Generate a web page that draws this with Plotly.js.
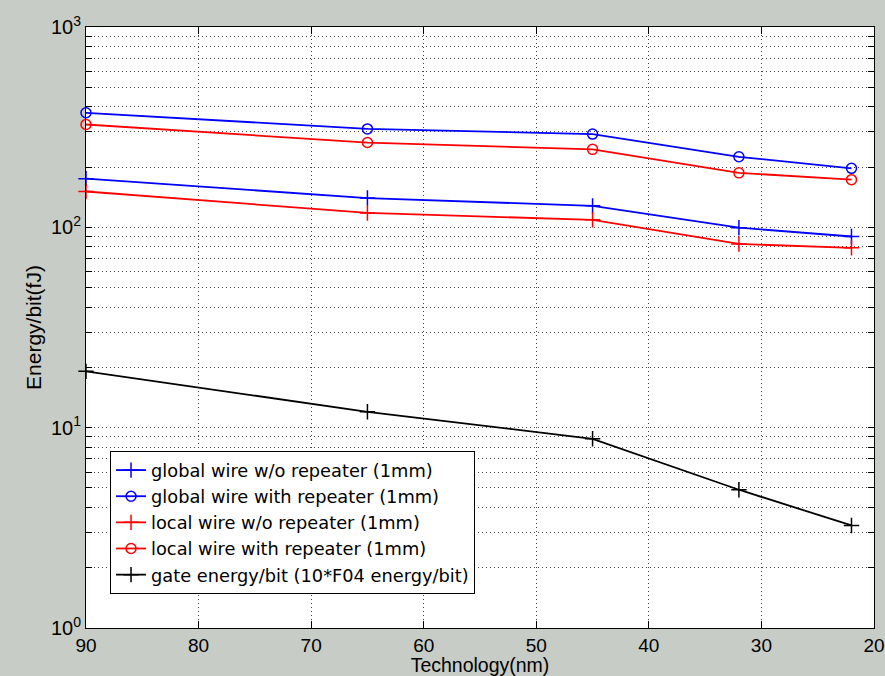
<!DOCTYPE html>
<html>
<head>
<meta charset="utf-8">
<script src="https://cdn.plot.ly/plotly-3.0.1.min.js"></script>
<style>html,body{margin:0;padding:0;background:#c8ccc6;}#chart{width:885px;height:676px;}</style>
</head>
<body>
<div id="chart"></div>
<script>
const technology = [90, 65, 45, 32, 22];
const globalNoRep = [175, 140, 128, 99.6, 90];
const globalRep = [373, 310, 292, 225, 197];
const localNoRep = [151, 118, 109, 82.6, 79];
const localRep = [326, 265, 245, 187, 173];
const gateEnergy = [19.1, 12.0, 8.8, 4.9, 3.25];
const seriesNames = [
  'global wire w/o repeater (1mm)',
  'global wire with repeater (1mm)',
  'local wire w/o repeater (1mm)',
  'local wire with repeater (1mm)',
  'gate energy/bit (10*F04 energy/bit)'
];
const xTicks = [90, 80, 70, 60, 50, 40, 30, 20];

const yTickVals = [];
const yTickText = [];
for (let e = 0; e < 3; e++) {
  for (let m = 1; m <= 9; m++) {
    yTickVals.push(m * Math.pow(10, e));
    yTickText.push(m === 1 ? '10<sup>' + e + '</sup>' : '');
  }
}
yTickVals.push(1000); yTickText.push('10<sup>3</sup>');

function tr(y, name, color, sym, sz) {
  return {
    x: technology, y: y, name: name, type: 'scatter', mode: 'lines+markers',
    cliponaxis: false,
    line: {color: color, width: 1.8},
    marker: {symbol: sym, size: sz, color: color, line: {color: color, width: 1.5}}
  };
}
const data = [
  tr(globalNoRep, seriesNames[0], '#0000ff', 'cross-thin-open', 11),
  tr(globalRep, seriesNames[1], '#0000ff', 'circle-open', 10),
  tr(localNoRep, seriesNames[2], '#ff0000', 'cross-thin-open', 11),
  tr(localRep, seriesNames[3], '#ff0000', 'circle-open', 10),
  tr(gateEnergy, seriesNames[4], '#000000', 'cross-thin-open', 11)
];

const fam = 'Liberation Sans, Arial, sans-serif';
const gridDash = '1px,3px';
const layout = {
  width: 885, height: 676,
  paper_bgcolor: '#c8ccc6', plot_bgcolor: '#ffffff',
  margin: {l: 86, r: 11, t: 27, b: 48},
  font: {family: fam, size: 20, color: '#000'},
  showlegend: true,
  legend: {
    x: 0.0305, y: 0.2945, xanchor: 'left', yanchor: 'top',
    bgcolor: '#ffffff', bordercolor: '#000', borderwidth: 1,
    font: {family: 'DejaVu Sans, sans-serif', size: 17.8, color: '#000'},
    tracegroupgap: 0, itemwidth: 30
  },
  xaxis: {
    range: [90, 20], tickvals: xTicks, ticktext: xTicks.map(String),
    ticks: 'inside', ticklen: 7, tickcolor: '#000', mirror: 'ticks',
    showline: true, linecolor: '#000', linewidth: 1,
    showgrid: true, gridcolor: '#444', griddash: gridDash, gridwidth: 1,
    zeroline: false, ticklabeloverflow: 'allow',
    title: {text: 'Technology(nm)', font: {family: fam, size: 19.5}, standoff: 2},
    tickfont: {family: fam, size: 19}
  },
  yaxis: {
    type: 'log', range: [0, 3],
    tickvals: yTickVals, ticktext: yTickText,
    ticks: 'inside', ticklen: 6, tickcolor: '#000', mirror: 'ticks',
    showline: true, linecolor: '#000', linewidth: 1,
    showgrid: true, gridcolor: '#444', griddash: gridDash, gridwidth: 1,
    zeroline: false, ticklabeloverflow: 'allow',
    title: {text: 'Energy/bit(fJ)', font: {family: fam, size: 21}, standoff: 3},
    tickfont: {family: fam, size: 20}
  }
};
Plotly.newPlot('chart', data, layout, {displayModeBar: false, staticPlot: true});
</script>
</body>
</html>
